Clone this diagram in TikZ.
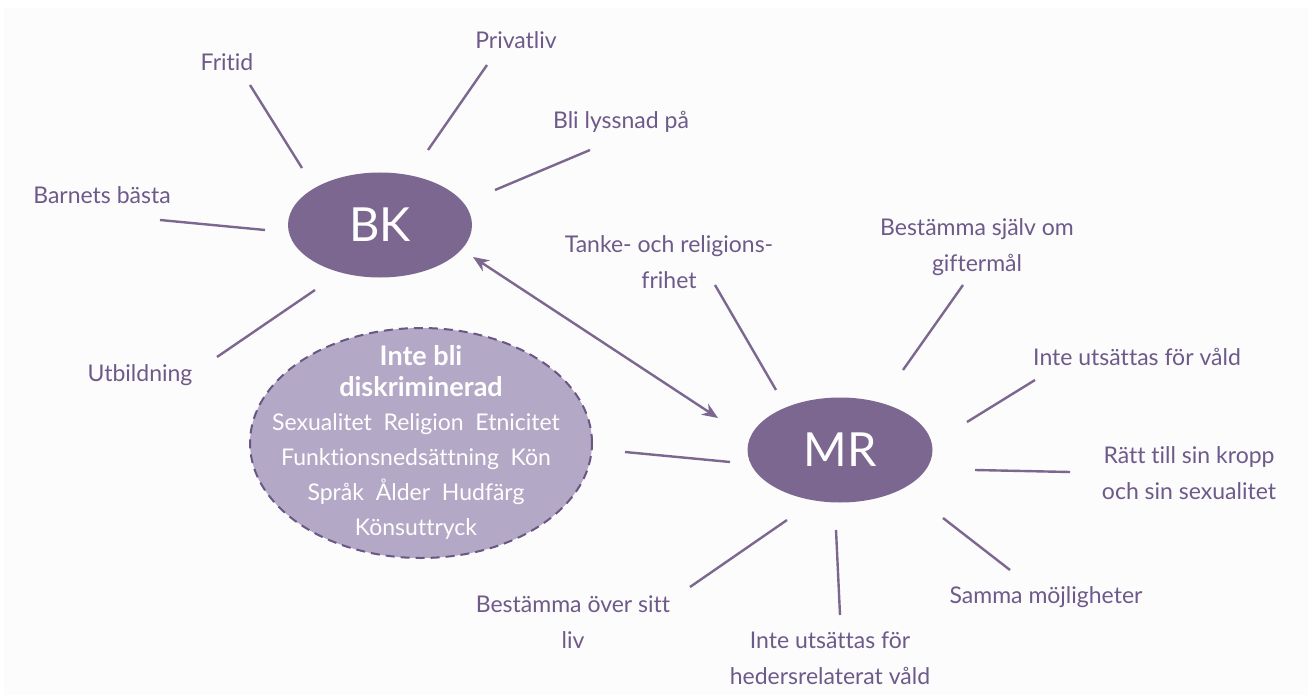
\documentclass[tikz,border=0pt]{standalone}
\usepackage{fontspec}
\setmainfont{Lato}[Ligatures={NoCommon}]
\usetikzlibrary{arrows.meta,shapes.geometric}
\definecolor{pur}{HTML}{7B6790}
\definecolor{purtext}{HTML}{6E5A8A}
\definecolor{lpur}{HTML}{B3A8C5}
\definecolor{dpur}{HTML}{6B5784}
\definecolor{bg}{HTML}{FCFCFC}
\tikzset{
  hub/.style={ellipse, fill=pur, text=white, inner sep=0pt, font=\fontsize{47}{47}\selectfont},
  lbl/.style={text=purtext, align=center, inner sep=0pt, font=\fontsize{23}{36}\selectfont},
  spoke/.style={draw=pur, line width=2.4pt},
  disc/.style={ellipse, fill=lpur, draw=dpur, line width=2pt, dash pattern=on 9pt off 6pt, inner sep=0pt},
  wt/.style={text=white, align=center, inner sep=0pt, font=\fontsize{23}{35}\selectfont}
}
\begin{document}
\begin{tikzpicture}[x=1pt,y=-1pt]
\useasboundingbox (0,0) rectangle (1308,695);
\fill[white] (0,0) rectangle (1308,695);
\fill[bg] (4,8) rectangle (1308,695);

% hubs
\node[hub, minimum width=184pt, minimum height=105pt] (bk) at (380,225) {BK};
\node[hub, minimum width=185pt, minimum height=105pt] (mr) at (840,450) {MR};
\node[disc, minimum width=342pt, minimum height=230pt] (dk) at (421,443) {};
\node[wt, font=\fontsize{27}{31}\selectfont\bfseries] (dk1) at (421,371) {Inte bli\\diskriminerad};
\node[wt] (dk2) at (416,476) {Sexualitet\ \ Religion\ \ Etnicitet\\Funktionsnedsättning\ \ Kön\\Språk\ \ Ålder\ \ Hudfärg\\Könsuttryck};

% BK labels
\node[lbl] (fritid) at (227,62) {Fritid};
\node[lbl] (priv) at (516,40) {Privatliv};
\node[lbl] (bli) at (621,122) {Bli lyssnad på};
\node[lbl] (barn) at (102,195) {Barnets bästa};
\node[lbl] (utb) at (140,375) {Utbildning};

% MR labels
\node[lbl] (tanke) at (669,262) {Tanke- och religions-\\frihet};
\node[lbl] (best) at (977,247) {Bestämma själv om\\giftermål};
\node[lbl] (vald) at (1137,357) {Inte utsättas för våld};
\node[lbl] (ratt) at (1189,473) {Rätt till sin kropp\\och sin sexualitet};
\node[lbl] (samma) at (1046,597) {Samma möjligheter};
\node[lbl] (heder) at (830,658) {Inte utsättas för\\hedersrelaterat våld};
\node[lbl] (liv) at (573,622) {Bestämma över sitt\\liv};

% spoke end coordinates
\coordinate (a1) at (250,85);   \coordinate (b1) at (302,168);
\coordinate (a2) at (487,65);   \coordinate (b2) at (428,150);
\coordinate (a3) at (590,150);  \coordinate (b3) at (495,190);
\coordinate (a4) at (160,220);  \coordinate (b4) at (265,230);
\coordinate (a5) at (315,290);  \coordinate (b5) at (217,357);

\coordinate (c1) at (715,285);  \coordinate (d1) at (776,390);
\coordinate (c2) at (963,285);  \coordinate (d2) at (903,370);
\coordinate (c3) at (1035,380); \coordinate (d3) at (967,422);
\coordinate (c4) at (1070,472); \coordinate (d4) at (975,470);
\coordinate (c5) at (1010,570); \coordinate (d5) at (943,518);
\coordinate (c6) at (836,530);  \coordinate (d6) at (840,615);
\coordinate (c7) at (787,520);  \coordinate (d7) at (690,587);
\coordinate (c8) at (625,452);  \coordinate (d8) at (730,462);

\foreach \i in {1,...,5} \draw[spoke] (a\i) -- (b\i);
\foreach \i in {1,...,8} \draw[spoke] (c\i) -- (d\i);

% double arrow
\coordinate (e1) at (473,257);
\coordinate (e2) at (718,418);
\draw[spoke, {Stealth[length=16pt,width=13pt]}-{Stealth[length=16pt,width=13pt]}] (e1) -- (e2);
\end{tikzpicture}
\end{document}
